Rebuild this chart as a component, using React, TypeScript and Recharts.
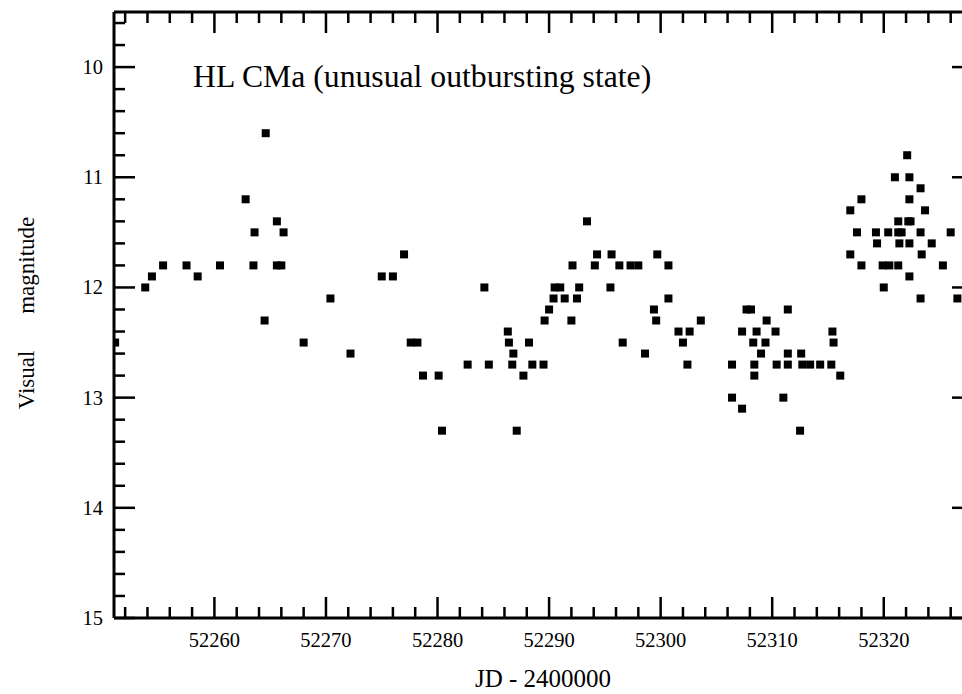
import { ScatterChart, Scatter, XAxis, YAxis } from 'recharts'

// JD - 2400000 of each visual estimate, paired with MAG by index
const JD = [
  52251.1, 52253.8, 52254.4, 52255.4, 52257.5, 52258.5, 52260.5, 52262.8, 52263.5, 52263.6,
  52264.5, 52264.6, 52265.6, 52265.6, 52266.0, 52266.2, 52268.0, 52270.4, 52272.2, 52275.0,
  52276.0, 52277.0, 52277.6, 52278.2, 52278.7, 52280.1, 52280.4, 52282.7, 52284.2, 52284.6,
  52286.3, 52286.4, 52286.7, 52286.8, 52287.1, 52287.7, 52288.2, 52288.5, 52289.5, 52289.6,
  52290.0, 52290.4, 52290.5, 52291.0, 52291.4, 52292.0, 52292.1, 52292.5, 52292.7, 52293.4,
  52294.1, 52294.3, 52295.5, 52295.6, 52296.3, 52296.6, 52297.3, 52298.0, 52298.6, 52299.4,
  52299.6, 52299.7, 52300.7, 52300.7, 52301.6, 52302.0, 52302.4, 52302.6, 52303.6, 52306.4,
  52306.4, 52307.3, 52307.3, 52307.7, 52308.1, 52308.3, 52308.4, 52308.4, 52308.6, 52309.0,
  52309.4, 52309.5, 52310.3, 52310.4, 52311.0, 52311.4, 52311.4, 52311.4, 52312.5, 52312.6,
  52312.7, 52313.4, 52314.3, 52315.3, 52315.4, 52315.5, 52316.1, 52317.0, 52317.0, 52317.6,
  52318.0, 52318.0, 52319.3, 52319.4, 52319.9, 52320.0, 52320.4, 52320.5, 52321.0, 52321.3,
  52321.3, 52321.3, 52321.4, 52321.6, 52322.1, 52322.3, 52322.3, 52322.2, 52322.4, 52322.3,
  52322.3, 52323.3, 52323.3, 52323.4, 52323.3, 52323.7, 52324.3, 52325.3, 52326.0, 52326.6,
]

const MAG = [
  12.5, 12.0, 11.9, 11.8, 11.8, 11.9, 11.8, 11.2, 11.8, 11.5,
  12.3, 10.6, 11.4, 11.8, 11.8, 11.5, 12.5, 12.1, 12.6, 11.9,
  11.9, 11.7, 12.5, 12.5, 12.8, 12.8, 13.3, 12.7, 12.0, 12.7,
  12.4, 12.5, 12.7, 12.6, 13.3, 12.8, 12.5, 12.7, 12.7, 12.3,
  12.2, 12.1, 12.0, 12.0, 12.1, 12.3, 11.8, 12.1, 12.0, 11.4,
  11.8, 11.7, 12.0, 11.7, 11.8, 12.5, 11.8, 11.8, 12.6, 12.2,
  12.3, 11.7, 11.8, 12.1, 12.4, 12.5, 12.7, 12.4, 12.3, 12.7,
  13.0, 12.4, 13.1, 12.2, 12.2, 12.5, 12.7, 12.8, 12.4, 12.6,
  12.5, 12.3, 12.4, 12.7, 13.0, 12.2, 12.6, 12.7, 13.3, 12.6,
  12.7, 12.7, 12.7, 12.7, 12.4, 12.5, 12.8, 11.7, 11.3, 11.5,
  11.2, 11.8, 11.5, 11.6, 11.8, 12.0, 11.5, 11.8, 11.0, 11.5,
  11.4, 11.8, 11.6, 11.5, 10.8, 11.0, 11.2, 11.4, 11.4, 11.6,
  11.9, 11.1, 11.5, 11.7, 12.1, 11.3, 11.6, 11.8, 11.5, 12.1,
]

const X_LABELS = [52260, 52270, 52280, 52290, 52300, 52310, 52320]
const Y_LABELS = [10, 11, 12, 13, 14, 15]
const X_DOMAIN: [number, number] = [52251, 52328]
const Y_DOMAIN: [number, number] = [9.5, 15]

const TITLE = 'HL CMa (unusual outbursting state)'
const X_TITLE = 'JD - 2400000'

const points = JD.map((jd, i) => ({ jd, mag: MAG[i] }))

// minor ticks every 2 days / 0.2 mag
const xTicks: number[] = []
for (let v = 52252; v <= 52326; v += 2) xTicks.push(v)
const yTicks: number[] = []
for (let k = 48; k <= 75; k++) yTicks.push(Math.round(k * 2) / 10)

const FONT = '"Liberation Serif", "Times New Roman", serif'
const MAJOR = 21
const MINOR = 11
const isMajorX = (v: number) => X_LABELS.includes(v)
const isMajorY = (v: number) => Y_LABELS.includes(v)

// ticks point inward, so draw them ourselves
const BottomTick = (p: any) => {
  const v = p.payload.value
  const len = isMajorX(v) ? MAJOR : MINOR
  return (
    <g>
      <line x1={p.x} y1={p.y} x2={p.x} y2={p.y - len} stroke="#000" strokeWidth={2.5} />
      {isMajorX(v) && (
        <text x={p.x} y={p.y + 29} textAnchor="middle" fontSize={20.5} fontFamily={FONT} fill="#000">
          {v}
        </text>
      )}
    </g>
  )
}

const TopTick = (p: any) => {
  const len = isMajorX(p.payload.value) ? MAJOR : MINOR
  return <line x1={p.x} y1={p.y} x2={p.x} y2={p.y + len} stroke="#000" strokeWidth={2.5} />
}

const LeftTick = (p: any) => {
  const v = p.payload.value
  const len = isMajorY(v) ? MAJOR : MINOR
  return (
    <g>
      <line x1={p.x} y1={p.y} x2={p.x + len} y2={p.y} stroke="#000" strokeWidth={2.5} />
      {isMajorY(v) && (
        <text x={p.x - 11} y={p.y + 7} textAnchor="end" fontSize={20.5} fontFamily={FONT} fill="#000">
          {v}
        </text>
      )}
    </g>
  )
}

const RightTick = (p: any) => {
  const len = isMajorY(p.payload.value) ? MAJOR : MINOR
  return <line x1={p.x} y1={p.y} x2={p.x - len} y2={p.y} stroke="#000" strokeWidth={2.5} />
}

const SquareDot = (p: any) => <rect x={p.cx - 4} y={p.cy - 4} width={8} height={8} fill="#000" />

const axisLine = { stroke: '#000', strokeWidth: 3 }

export default function App() {
  return (
    <div
      style={{
        position: 'absolute',
        left: 0,
        top: 0,
        width: 962,
        height: 694,
        overflow: 'hidden',
        background: '#fff',
      }}
    >
      <ScatterChart width={980} height={694} margin={{ top: 1, right: 6, bottom: 46, left: 54 }}>
        <XAxis
          dataKey="jd"
          type="number"
          domain={X_DOMAIN}
          ticks={[...xTicks, ...X_LABELS].sort((a, b) => a - b).filter((v, i, a) => a.indexOf(v) === i)}
          interval={0}
          height={30}
          tickSize={0}
          tickMargin={0}
          tickLine={false}
          axisLine={axisLine}
          tick={BottomTick}
          allowDataOverflow
        />
        <XAxis
          xAxisId={1}
          dataKey="jd"
          orientation="top"
          type="number"
          domain={X_DOMAIN}
          ticks={xTicks}
          interval={0}
          height={11}
          tickSize={0}
          tickMargin={0}
          tickLine={false}
          axisLine={axisLine}
          tick={TopTick}
          allowDataOverflow
        />
        <YAxis
          dataKey="mag"
          type="number"
          domain={Y_DOMAIN}
          reversed
          ticks={yTicks}
          interval={0}
          width={60}
          tickSize={0}
          tickMargin={0}
          tickLine={false}
          axisLine={axisLine}
          tick={LeftTick}
          allowDataOverflow
        />
        <YAxis
          yAxisId="right"
          orientation="right"
          type="number"
          domain={Y_DOMAIN}
          reversed
          ticks={yTicks}
          interval={0}
          width={1}
          tickSize={0}
          tickMargin={0}
          tickLine={false}
          axisLine={axisLine}
          tick={RightTick}
          allowDataOverflow
        />
        <Scatter data={points} shape={SquareDot} isAnimationActive={false} />
      </ScatterChart>
      <svg
        width={962}
        height={694}
        style={{ position: 'absolute', left: 0, top: 0, pointerEvents: 'none' }}
        fontFamily={FONT}
      >
        <text x={193} y={87} fontSize={31.7} fill="#000">
          {TITLE}
        </text>
        <text x={543} y={687} fontSize={25} textAnchor="middle" fill="#000">
          {X_TITLE}
        </text>
        <text transform="translate(34,313) rotate(-90)" fontSize={23} textAnchor="middle" fill="#000">
          Visual<tspan dx={31}> magnitude</tspan>
        </text>
      </svg>
    </div>
  )
}
